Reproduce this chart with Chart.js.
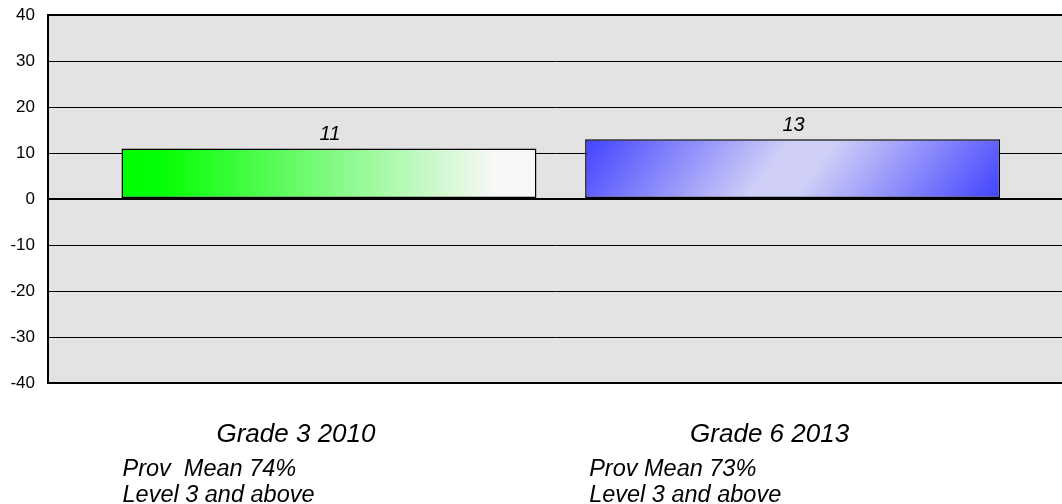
<!DOCTYPE html>
<html>
<head>
<meta charset="utf-8">
<script src="https://cdn.jsdelivr.net/npm/chart.js@4/dist/chart.umd.min.js"></script>
<style>
  html, body { margin: 0; padding: 0; background: #fff; overflow: hidden; }
  #wrap { width: 1062px; height: 504px; position: relative; }
  canvas { display: block; }
</style>
</head>
<body>
<div id="wrap"><canvas id="chart" width="1062" height="504"></canvas></div>
<script>
// Category captions and the two note lines under each one
const categories = ['Grade 3 2010', 'Grade 6 2013'];
const provMeans = ['Prov  Mean 74%', 'Prov Mean 73%'];
const levelNotes = ['Level 3 and above', 'Level 3 and above'];

// Bar values (percentage-point difference)
const values = [11, 13];

// Value-axis range and step
const yMin = -40;
const yMax = 40;
const yStep = 10;

const FONT = "'Liberation Sans', Arial, sans-serif";

// Grey plot background
const plotBackground = {
  id: 'plotBackground',
  beforeDraw(chart) {
    const { ctx, chartArea: a } = chart;
    ctx.save();
    ctx.fillStyle = '#e3e3e3';
    ctx.fillRect(a.left, a.top, a.right - a.left, a.bottom - a.top);
    ctx.restore();
  }
};

// Gradient fills: green fading to white, and a diagonal blue sheen
const barFills = {
  id: 'barFills',
  beforeDatasetsDraw(chart) {
    const { ctx } = chart;
    const meta = chart.getDatasetMeta(0);
    meta.data.forEach((bar, i) => {
      const left = bar.x - bar.width / 2;
      const right = bar.x + bar.width / 2;
      const top = Math.min(bar.y, bar.base);
      const bottom = Math.max(bar.y, bar.base);
      let g;
      if (i === 0) {
        g = ctx.createLinearGradient(left, 0, right, 0);
        g.addColorStop(0, '#00ff00');
        g.addColorStop(0.1, '#05ff05');
        g.addColorStop(0.5, '#80fa80');
        g.addColorStop(0.9, '#f8f8f8');
        g.addColorStop(1, '#f8f8f8');
      } else {
        const ux = 0.8, uy = 0.6;
        const len = (right - left) * ux + (bottom - top) * uy;
        g = ctx.createLinearGradient(left, top, left + ux * len, top + uy * len);
        g.addColorStop(0, '#4242ff');
        g.addColorStop(0.45, '#cfcff8');
        g.addColorStop(0.55, '#cfcff8');
        g.addColorStop(1, '#4242ff');
      }
      // each bar gets its own options object so the fills stay separate
      bar.options = Object.assign({}, bar.options, { backgroundColor: g });
    });
  }
};

// Value labels above the bars and the caption block under each bar
const textLayer = {
  id: 'textLayer',
  afterDatasetsDraw(chart) {
    const { ctx } = chart;
    const meta = chart.getDatasetMeta(0);
    const x = chart.scales.x;
    const gradeShift = [-33, -23];
    const noteShift = [1, 4];
    ctx.save();
    ctx.fillStyle = '#000';
    meta.data.forEach((bar, i) => {
      // value label
      ctx.font = 'italic 20px ' + FONT;
      ctx.textAlign = 'center';
      ctx.textBaseline = 'alphabetic';
      ctx.fillText(String(values[i]), bar.x + 1, Math.min(bar.y, bar.base) - 8);

      // caption
      const cx = x.getPixelForValue(i);
      ctx.font = 'italic 26px ' + FONT;
      ctx.textAlign = 'center';
      ctx.fillText(categories[i], cx + gradeShift[i], 442);

      const left = bar.x - bar.width / 2 + noteShift[i];
      ctx.font = 'italic 23.5px ' + FONT;
      ctx.textAlign = 'left';
      ctx.fillText(provMeans[i], left, 476);
      ctx.fillText(levelNotes[i], left, 502);
    });
    ctx.restore();
  }
};

new Chart(document.getElementById('chart'), {
  type: 'bar',
  data: {
    datasets: [{
      data: values.map((v, i) => ({ x: i, y: v })),
      backgroundColor: '#00ff00',
      borderColor: '#000',
      borderWidth: 1.5,
      borderSkipped: false,
      barPercentage: 0.895,
      categoryPercentage: 1.0
    }]
  },
  options: {
    responsive: false,
    animation: false,
    devicePixelRatio: 1,
    layout: { padding: { top: 15, left: 0, right: 0, bottom: 0 } },
    plugins: {
      legend: { display: false },
      tooltip: { enabled: false },
      title: { display: false }
    },
    scales: {
      x: {
        type: 'linear',
        offset: false,
        min: -0.606,
        max: 1.581,
        afterBuildTicks(scale) {
          scale.ticks = categories.map((_, i) => ({ value: i }));
        },
        afterFit(scale) { scale.height = 121; },
        ticks: { display: false },
        grid: { display: false, drawTicks: false, offset: false },
        border: { display: false }
      },
      y: {
        min: yMin,
        max: yMax,
        afterFit(scale) {
          scale.width = 48;
          scale.paddingTop = 0;
          scale.paddingBottom = 0;
        },
        ticks: {
          stepSize: yStep,
          color: '#000',
          padding: 13,
          font: { family: FONT, size: 17 }
        },
        grid: {
          color: '#000',
          drawTicks: false,
          lineWidth: (c) => {
            const v = c.tick ? c.tick.value : null;
            return (v === 0 || v === yMin || v === yMax) ? 2 : 1;
          }
        },
        border: { display: true, color: '#000', width: 2 }
      }
    }
  },
  plugins: [plotBackground, barFills, textLayer]
});
</script>
</body>
</html>
